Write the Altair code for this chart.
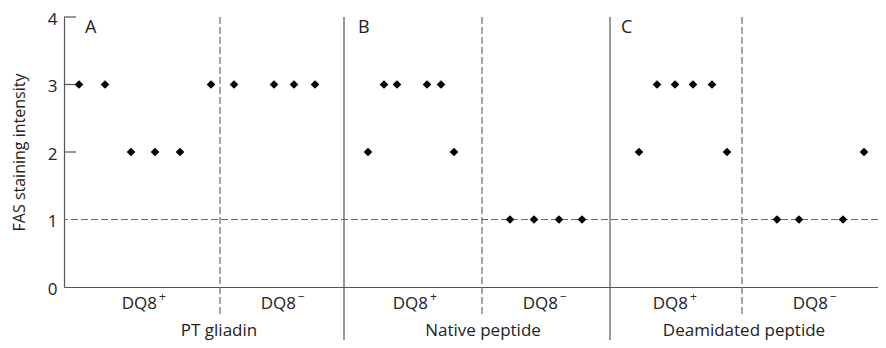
import altair as alt
import pandas as pd

# ---- data ----
# horizontal positions of subjects along the (hidden) x axis, and their FAS scores
a_pos_pos = [15, 41, 67, 91, 116, 147]
a_pos_val = [3, 3, 2, 2, 2, 3]
a_neg_pos = [170, 210, 230, 251]
a_neg_val = [3, 3, 3, 3]
b_pos_pos = [304, 320, 333, 363, 377, 390]
b_pos_val = [2, 3, 3, 3, 3, 2]
b_neg_pos = [446, 470, 495, 518]
b_neg_val = [1, 1, 1, 1]
c_pos_pos = [575, 593, 611, 629, 648, 663]
c_pos_val = [2, 3, 3, 3, 3, 2]
c_neg_pos = [713, 735, 779, 800]
c_neg_val = [1, 1, 1, 2]

threshold = [1]
y_ticks = [0, 1, 2, 3, 4]
inner_ticks = [2, 3, 4]

dash_dividers = [156, 418, 678]
panel_dividers = [280, 546]

panel_letters = ["A", "B", "C"]
panel_letter_pos = [21, 294, 557]

group_base = ["DQ8", "DQ8", "DQ8", "DQ8", "DQ8", "DQ8"]
group_sup = ["+", "\u2212", "+", "\u2212", "+", "\u2212"]
group_label_pos = [80, 219, 351, 481, 611, 751]

antigen_titles = ["PT gliadin", "Native peptide", "Deamidated peptide"]
antigen_title_pos = [155, 419, 680]

# ---- tables ----
pos_all = a_pos_pos + a_neg_pos + b_pos_pos + b_neg_pos + c_pos_pos + c_neg_pos
val_all = a_pos_val + a_neg_val + b_pos_val + b_neg_val + c_pos_val + c_neg_val
pts_df = pd.DataFrame({"pos": pos_all, "score": val_all})
grp_df = pd.DataFrame({"pos": group_label_pos, "base": group_base, "sup": group_sup})

FONT = "Open Sans"
AX = "#555555"
DASH = "#6a6a6a"
TXT = "#222222"

xs = alt.Scale(domain=[0, 814], nice=False, zero=False)
ys = alt.Scale(domain=[0, 4], nice=False)

x_axis = alt.Axis(title=None, labels=False, ticks=False, grid=False,
                  domainColor=AX, domainWidth=1.2)
y_axis = alt.Axis(title="FAS staining intensity", values=y_ticks, format="d",
                  ticks=False, grid=False, labelPadding=7, labelFontSize=17,
                  labelOffset=2,
                  labelColor=TXT, labelFont=FONT, domainColor=AX, domainWidth=1.2,
                  titleFont=FONT, titleFontSize=16, titleFontWeight="normal",
                  titleColor=TXT, titleX=-40, titleY=135, titleBaseline="alphabetic",
                  titleAngle=270)

X = alt.X("pos:Q", scale=xs, axis=x_axis)

points = alt.Chart(pts_df).mark_point(
    shape="diamond", filled=True, color="black", size=75, opacity=1
).encode(x=X, y=alt.Y("score:Q", scale=ys, axis=y_axis))

hline = alt.Chart(pd.DataFrame({"t": threshold})).mark_rule(
    color=DASH, strokeDash=[7, 3], strokeWidth=1.2
).encode(y=alt.Y("t:Q", scale=ys))

ticks = alt.Chart(pd.DataFrame({"t": inner_ticks})).mark_rule(
    color=AX, strokeWidth=1.2
).encode(y=alt.Y("t:Q", scale=ys), x=alt.value(0), x2=alt.value(12))

dashed = alt.Chart(pd.DataFrame({"pos": dash_dividers})).mark_rule(
    color=DASH, strokeDash=[7, 3], strokeWidth=1.2
).encode(x=X, y=alt.value(0), y2=alt.value(298))

solid = alt.Chart(pd.DataFrame({"pos": panel_dividers})).mark_rule(
    color=AX, strokeWidth=1.2
).encode(x=X, y=alt.value(0), y2=alt.value(324))

letters = alt.Chart(pd.DataFrame({"pos": panel_letter_pos, "lab": panel_letters})).mark_text(
    align="left", baseline="alphabetic", font=FONT, fontSize=18, color=TXT
).encode(x=X, y=alt.value(16), text="lab:N")

groups = alt.Chart(grp_df).mark_text(
    align="right", baseline="alphabetic", font=FONT, fontSize=17, color=TXT, dx=13
).encode(x=X, y=alt.value(291.5), text="base:N")

sups = alt.Chart(grp_df).mark_text(
    align="left", baseline="middle", font=FONT, fontSize=12, color=TXT, dx=15
).encode(x=X, y=alt.value(279.5), text="sup:N")

titles = alt.Chart(pd.DataFrame({"pos": antigen_title_pos, "lab": antigen_titles})).mark_text(
    align="center", baseline="alphabetic", font=FONT, fontSize=17, color=TXT
).encode(x=X, y=alt.value(318.5), text="lab:N")

chart = alt.layer(hline, dashed, solid, ticks, letters, groups, sups, titles, points).properties(
    width=814, height=270,
    autosize=alt.AutoSizeParams(type="none"),
    padding={"left": 56, "top": 9, "right": 0, "bottom": 53},
).configure_view(stroke=None).configure_axis(labelFont=FONT, titleFont=FONT)

chart.save("out.html", embed_options={"renderer": "svg", "actions": False})
